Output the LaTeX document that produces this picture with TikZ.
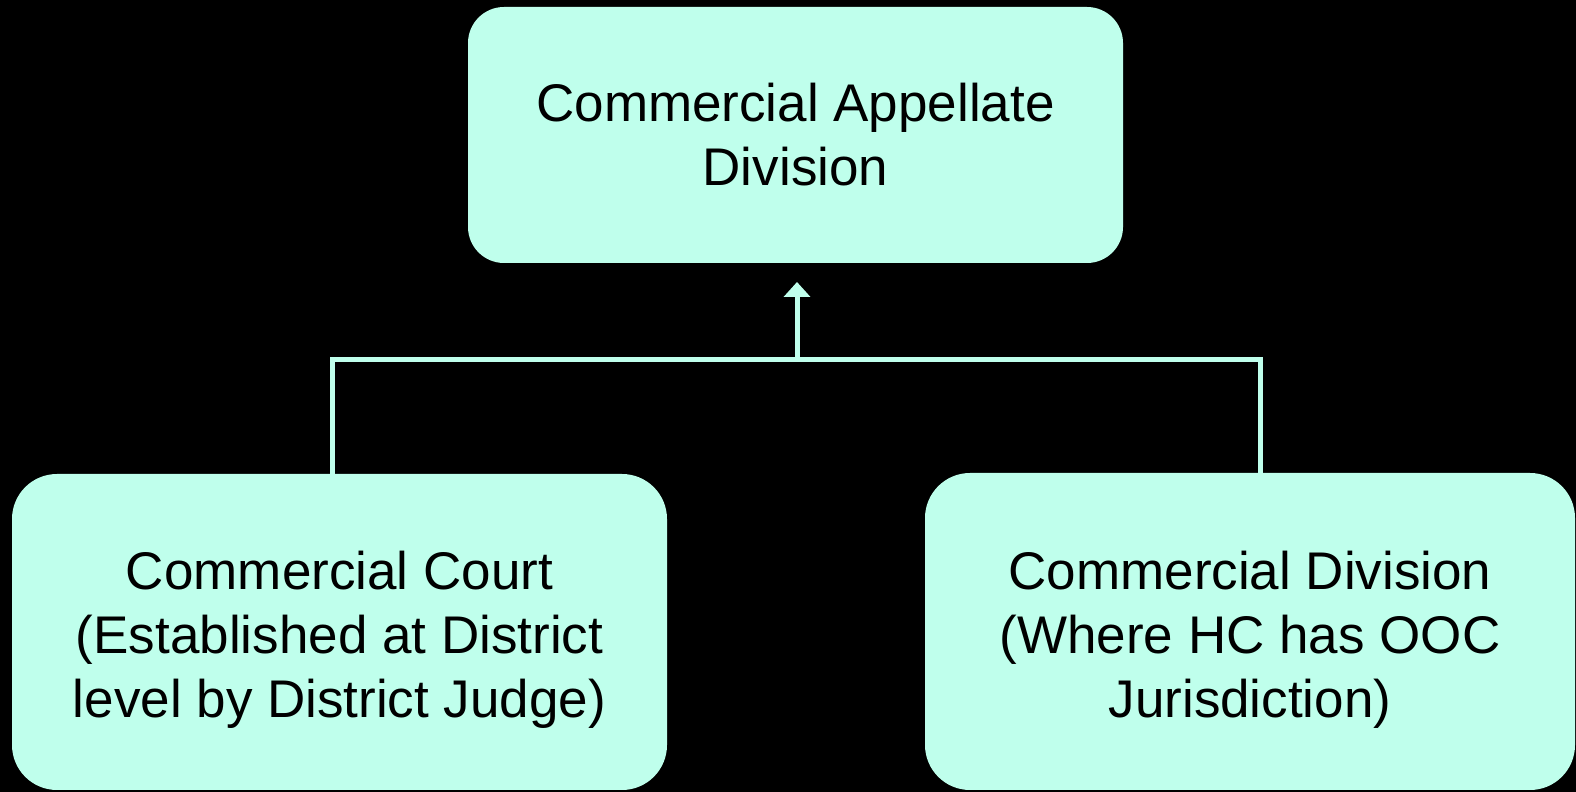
\documentclass[tikz,border=0pt]{standalone}
\usepackage{fontspec}
\setmainfont{Liberation Sans}
\usetikzlibrary{arrows.meta}
\definecolor{mint}{RGB}{191,255,236}
\tikzset{
  box/.style={fill=mint, draw=none, inner sep=0pt, align=center,
    font=\fontsize{53}{64}\selectfont, text=black},
  lowbox/.style={box, rounded corners=45pt, text height=182pt},
  conn/.style={draw=mint, line width=5pt},
}
\begin{document}
\begin{tikzpicture}[x=1pt,y=1pt]
\fill[black] (0,0) rectangle (1576,792);
\useasboundingbox (0,0) rectangle (1576,792);
\node[box, rounded corners=36pt, minimum width=655pt, minimum height=256pt] (cad) at (795.5,657) {Commercial Appellate\\Division};
\node[lowbox, minimum width=655pt, minimum height=316pt] (cc) at (339.5,160) {Commercial Court\\(Established at District\\level by District Judge)};
\node[lowbox, minimum width=650pt, minimum height=317pt] (cd) at (1250,160.5) {Commercial Division\\(Where HC has OOC\\Jurisdiction)};
\coordinate (j) at (797,432);
\coordinate (tip) at (797,510);
\draw[conn] ([xshift=-7.5pt]cc.north) |- ([xshift=10pt]cd.north |- j) -- ([xshift=10pt]cd.north);
\draw[conn, -{Triangle[width=26pt,length=15pt]}] (j) -- (tip);
\end{tikzpicture}
\end{document}
